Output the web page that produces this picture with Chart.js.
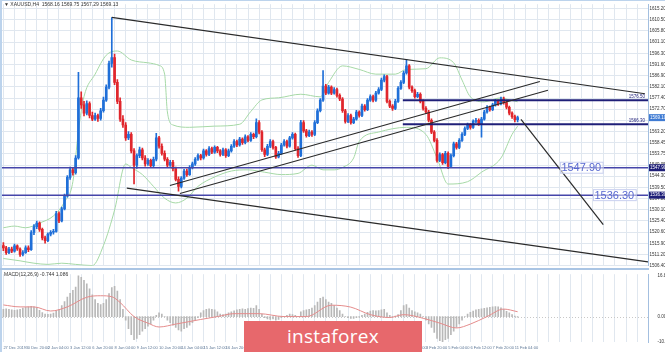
<!DOCTYPE html>
<html>
<head>
<meta charset="utf-8">
<script src="https://cdn.jsdelivr.net/npm/chart.js@4.4.1/dist/chart.umd.min.js"></script>
<style>
  body { margin: 0; background: #fff; width: 665px; height: 352px; overflow: hidden; position: relative; font-family: "Liberation Sans", Arial, sans-serif; }
  #mainBox { position: absolute; left: 0; top: 0; width: 665px; height: 270px; }
  #macdBox { position: absolute; left: 0; top: 270px; width: 665px; height: 82px; }
  .frameL { position: absolute; left: 0; top: 0; width: 2px; height: 352px; background: #bcd3ec; }
  .frameT { position: absolute; left: 0; top: 0; width: 665px; height: 1px; background: #bcd3ec; }
  .sep { position: absolute; left: 0; top: 268px; width: 649px; height: 2px; background: #aac5e4; }
  .title { position: absolute; left: 4px; top: 1px; font-size: 5px; color: #333; white-space: pre; }
  .subtitle { position: absolute; left: 4px; top: 271px; font-size: 5px; color: #333; white-space: pre; }
  .logo { position: absolute; left: 244px; top: 321px; width: 178px; height: 31px; background: #e7686c;
          color: #fff; font-family: "Open Sans", sans-serif; font-size: 19px; line-height: 30px; text-align: center; letter-spacing: 0.3px; }
</style>
</head>
<body>
<div id="mainBox"><canvas id="mainChart" width="665" height="270"></canvas></div>
<div id="macdBox"><canvas id="macdChart" width="665" height="82"></canvas></div>
<div class="frameL"></div>
<div class="frameT"></div>
<div class="sep"></div>
<div class="title">▼ XAUUSD,H4  1568.16 1569.75 1567.29 1569.13</div>
<div class="subtitle">MACD(12,26,9) -0.744 1.086</div>
<div class="logo">instaforex</div>
<script>
// H4 candles, bar 0 = 27 Dec 2019 12:00
let opens = [1515.0,1514.0,1512.0,1513.5,1512.6,1514.8,1513.5,1511.2,1512.0,1514.0,
  1513.2,1520.5,1523.0,1524.5,1521.8,1518.2,1517.0,1519.8,1520.6,1521.0,
  1528.5,1525.4,1530.5,1536.0,1543.8,1547.0,1545.8,1552.0,1577.5,1574.5,
  1571.0,1575.0,1570.0,1568.5,1570.0,1568.8,1572.0,1576.5,1582.0,1592.0,
  1594.5,1584.0,1576.0,1568.5,1566.0,1560.5,1562.0,1555.0,1549.0,1553.0,
  1555.5,1552.0,1549.5,1551.0,1548.8,1551.5,1560.5,1557.0,1554.0,1551.5,
  1549.0,1550.2,1547.5,1543.0,1540.0,1543.5,1546.5,1545.0,1548.0,1549.5,
  1551.5,1553.0,1552.0,1555.0,1553.5,1556.0,1554.5,1556.5,1555.0,1553.5,
  1555.5,1553.0,1555.0,1557.0,1559.0,1557.5,1560.0,1558.5,1561.0,1559.5,
  1562.0,1561.0,1567.0,1563.0,1555.5,1553.5,1557.0,1559.0,1556.5,1552.5,
  1554.0,1557.5,1559.0,1557.0,1560.5,1562.0,1556.0,1553.0,1567.0,1563.5,
  1561.5,1563.0,1562.0,1567.0,1572.0,1576.5,1582.5,1579.5,1582.0,1579.5,
  1581.0,1578.5,1577.0,1572.0,1567.5,1570.0,1567.0,1568.5,1571.5,1570.0,
  1574.0,1572.5,1576.5,1578.0,1576.5,1579.5,1581.0,1585.0,1586.5,1576.0,
  1574.0,1573.0,1576.0,1581.5,1584.0,1588.0,1591.0,1582.0,1580.5,1578.0,
  1579.0,1576.0,1573.0,1571.5,1568.0,1563.0,1559.5,1551.0,1553.5,1550.0,
  1554.0,1548.5,1553.0,1558.0,1556.5,1559.5,1562.0,1564.5,1566.0,1565.0,
  1567.5,1568.0,1566.5,1568.5,1571.5,1573.5,1572.5,1574.5,1576.0,1575.0,
  1577.0,1575.5,1573.5,1571.0,1569.5,1568.2];
let highs = [1516.2,1514.6,1514.2,1514.3,1515.6,1515.3,1514.0,1512.8,1514.8,1514.9,
  1521.3,1523.8,1525.3,1525.0,1522.4,1519.0,1520.4,1521.3,1521.8,1529.4,
  1529.2,1531.2,1536.8,1544.6,1548.2,1548.0,1553.0,1588.3,1580.0,1576.0,
  1576.2,1575.8,1571.5,1571.0,1570.6,1573.0,1577.8,1583.0,1593.0,1611.4,
  1596.0,1585.2,1577.5,1570.0,1567.0,1563.2,1562.8,1556.0,1553.8,1556.6,
  1556.2,1553.0,1551.8,1551.6,1552.4,1562.5,1561.2,1558.0,1555.0,1552.2,
  1551.0,1551.0,1548.2,1544.0,1544.2,1547.2,1547.3,1548.8,1550.3,1552.2,
  1553.8,1553.6,1555.8,1555.6,1556.8,1556.6,1557.2,1557.0,1555.6,1556.2,
  1556.0,1555.8,1557.7,1559.8,1559.6,1560.8,1560.6,1561.8,1561.5,1562.8,
  1562.6,1568.6,1567.8,1563.6,1556.2,1557.8,1559.8,1559.6,1557.0,1554.8,
  1558.2,1559.8,1559.6,1561.2,1562.8,1562.6,1556.8,1568.0,1567.8,1564.2,
  1563.8,1563.6,1567.8,1572.8,1577.2,1589.0,1583.2,1582.8,1582.6,1581.8,
  1581.6,1579.2,1577.6,1572.6,1570.8,1570.6,1569.2,1572.2,1572.0,1574.8,
  1574.6,1577.2,1578.8,1578.6,1580.2,1581.8,1585.8,1587.2,1587.0,1576.6,
  1574.6,1576.8,1582.2,1584.8,1588.8,1593.8,1591.6,1582.6,1581.2,1579.8,
  1579.6,1576.6,1573.8,1572.2,1568.6,1563.6,1560.2,1554.2,1554.0,1554.8,
  1554.6,1553.8,1558.8,1558.6,1560.2,1562.8,1565.2,1566.8,1566.6,1568.2,
  1568.8,1568.6,1569.2,1572.2,1574.2,1574.0,1575.2,1576.8,1576.6,1577.8,
  1577.8,1576.0,1574.0,1571.6,1570.2,1569.8];
let lows = [1512.8,1511.2,1511.5,1512.0,1512.2,1512.9,1510.4,1510.6,1511.6,1512.4,
  1512.9,1519.6,1522.1,1521.0,1517.4,1516.0,1516.6,1519.0,1519.8,1520.6,
  1524.6,1525.0,1530.0,1535.4,1543.0,1544.8,1545.2,1551.5,1573.0,1569.8,
  1570.2,1569.0,1567.8,1567.9,1567.5,1568.0,1571.4,1576.0,1581.2,1590.5,
  1583.0,1575.0,1567.5,1565.0,1559.5,1559.8,1554.2,1541.0,1547.6,1552.2,
  1551.2,1548.6,1548.9,1548.0,1548.2,1550.8,1556.2,1553.2,1550.8,1548.3,
  1548.5,1546.6,1542.3,1538.0,1539.4,1543.0,1544.2,1544.6,1547.4,1548.9,
  1551.0,1551.2,1551.5,1552.8,1553.0,1553.8,1554.0,1554.3,1552.8,1553.0,
  1552.3,1552.6,1554.5,1556.5,1556.8,1557.0,1557.8,1558.0,1558.8,1559.0,
  1560.2,1560.5,1562.2,1554.8,1552.6,1553.0,1556.4,1555.8,1551.8,1552.0,
  1553.5,1557.0,1556.3,1556.6,1560.0,1555.3,1552.3,1552.6,1562.8,1560.8,
  1561.0,1561.2,1561.5,1566.5,1571.5,1576.0,1578.8,1579.0,1578.8,1579.0,
  1577.8,1576.3,1571.3,1566.8,1567.0,1566.3,1566.5,1568.0,1569.3,1569.5,
  1571.8,1572.0,1576.0,1575.8,1576.0,1579.0,1580.5,1584.2,1575.3,1573.3,
  1572.2,1572.5,1575.5,1581.0,1583.5,1587.5,1581.3,1579.8,1577.3,1577.5,
  1575.3,1572.3,1570.8,1567.3,1562.3,1558.8,1550.3,1550.5,1549.3,1549.5,
  1547.5,1548.0,1552.5,1555.8,1556.0,1559.0,1561.5,1564.0,1564.2,1564.5,
  1567.0,1565.8,1560.8,1568.0,1571.0,1571.8,1572.0,1574.0,1574.3,1574.5,
  1574.8,1572.8,1570.3,1568.8,1567.3,1567.3];
let closes = [1514.0,1512.0,1513.5,1512.6,1514.8,1513.5,1511.2,1512.0,1514.0,1513.2,
  1520.5,1523.0,1524.5,1521.8,1518.2,1517.0,1519.8,1520.6,1521.0,1528.5,
  1525.4,1530.5,1536.0,1543.8,1547.0,1545.8,1552.0,1577.5,1574.5,1571.0,
  1575.0,1570.0,1568.5,1570.0,1568.8,1572.0,1576.5,1582.0,1592.0,1594.5,
  1584.0,1576.0,1568.5,1566.0,1560.5,1562.0,1555.0,1549.0,1553.0,1555.5,
  1552.0,1549.5,1551.0,1548.8,1551.5,1560.5,1557.0,1554.0,1551.5,1549.0,
  1550.2,1547.5,1543.0,1540.0,1543.5,1546.5,1545.0,1548.0,1549.5,1551.5,
  1553.0,1552.0,1555.0,1553.5,1556.0,1554.5,1556.5,1555.0,1553.5,1555.5,
  1553.0,1555.0,1557.0,1559.0,1557.5,1560.0,1558.5,1561.0,1559.5,1562.0,
  1561.0,1567.0,1563.0,1555.5,1553.5,1557.0,1559.0,1556.5,1552.5,1554.0,
  1557.5,1559.0,1557.0,1560.5,1562.0,1556.0,1553.0,1567.0,1563.5,1561.5,
  1563.0,1562.0,1567.0,1572.0,1576.5,1582.5,1579.5,1582.0,1579.5,1581.0,
  1578.5,1577.0,1572.0,1567.5,1570.0,1567.0,1568.5,1571.5,1570.0,1574.0,
  1572.5,1576.5,1578.0,1576.5,1579.5,1581.0,1585.0,1586.5,1576.0,1574.0,
  1573.0,1576.0,1581.5,1584.0,1588.0,1591.0,1582.0,1580.5,1578.0,1579.0,
  1576.0,1573.0,1571.5,1568.0,1563.0,1559.5,1551.0,1553.5,1550.0,1554.0,
  1548.5,1553.0,1558.0,1556.5,1559.5,1562.0,1564.5,1566.0,1565.0,1567.5,
  1568.0,1566.5,1568.5,1571.5,1573.5,1572.5,1574.5,1576.0,1575.0,1577.0,
  1575.5,1573.5,1571.0,1569.5,1568.2,1569.1];

// Bollinger bands, read at key bars
let upperBandBars = [0,4,8,13,18,22,25,27,29,33,37,41,46,52,56,58,59,61,67,76,85,89,93,99,107,114,117,122,128,134,141,145,152,157,162,165,168,173,179,182,185];
let upperBand = [1522.5,1523.2,1522.5,1524.5,1527.5,1533.5,1542.0,1563.5,1578.0,1587.5,1595.5,1597.3,1593.5,1592.3,1591.2,1587.5,1571.5,1566.0,1565.0,1565.5,1566.3,1571.7,1576.6,1577.5,1579.0,1577.9,1584.0,1591.0,1589.5,1587.5,1587.5,1589.5,1589.8,1594.4,1592.3,1585.0,1577.9,1575.8,1577.5,1576.6,1575.8];
let lowerBandBars = [0,6,11,16,21,26,32,36,40,44,46,50,54,58,62,66,70,76,82,88,94,100,106,111,115,119,122,126,128,135,145,152,156,160,167,172,179,183,185];
let lowerBand = [1509.5,1508.5,1507.5,1507.0,1507.5,1507.0,1506.5,1515,1530,1549.5,1548,1545,1540,1535,1533,1535,1540,1544,1546.5,1547,1546,1545,1545.5,1549,1547,1547,1548,1552,1559,1563,1565,1562,1552,1541,1542,1546,1552,1562,1565.5];

// trend lines: start bar/price, end bar/price
let trendStartBar = [39, 59.9, 63.5, 44.4, 186.2];
let trendStartPrice = [1611.5, 1540.4, 1537.0, 1539.3, 1568.4];
let trendEndBar = [230.8, 193.0, 195.9, 231.9, 215.8];
let trendEndPrice = [1579.2, 1584.4, 1580.7, 1508.1, 1523.8];

// horizontal levels
let levelPrices = [1576.5, 1566.3, 1547.9, 1536.3];
let levelStartBar = [143.7, 143.7, -0.5, -0.5];
let bigTagPrices = [1547.9, 1536.3];
let bigTagBars = [200.2, 212.1];

// MACD(12,26,9)
let macdHist = [3.0,3.2,3.0,2.8,2.6,2.8,3.0,3.5,3.8,4.0,
  4.2,4.0,3.6,2.6,1.6,1.0,0.9,1.0,1.4,2.4,
  3.0,4.5,6.2,8.0,9.6,10.8,12.2,16.8,16.2,15.0,
  13.5,11.5,9.0,7.0,5.5,5.0,5.5,7.0,9.5,12.0,
  12.5,10.5,7.0,3.0,-1.5,-5.0,-7.5,-9.5,-9.0,-7.5,
  -6.0,-5.0,-4.0,-3.0,-1.5,0.5,1.5,1.0,0.0,-1.5,
  -2.5,-3.5,-4.5,-5.5,-6.0,-5.0,-4.5,-3.5,-2.5,-1.5,
  -0.5,1.5,2.5,3.0,3.2,3.0,2.8,2.0,1.0,0.8,
  1.0,1.5,2.0,2.4,2.8,3.0,3.2,3.0,3.3,3.5,
  3.4,4.5,3.0,1.0,-0.5,-1.0,-1.2,-1.0,-1.5,-1.2,
  -0.5,0.0,0.5,1.0,0.8,0.5,0.0,2.0,2.5,2.8,
  3.0,3.5,4.5,6.0,7.5,8.0,7.0,6.0,5.5,4.5,
  3.5,2.5,1.0,0.0,-0.5,-0.8,-0.8,-0.5,-0.2,0.5,
  1.0,1.8,2.3,2.5,2.4,2.5,2.8,3.0,1.5,0.5,
  0.0,0.2,0.8,2.5,4.5,5.0,3.5,2.5,2.0,1.5,
  1.0,0.0,-1.5,-3.0,-4.5,-6.5,-9.0,-10.0,-10.5,-9.5,
  -9.0,-7.5,-6.0,-4.5,-3.0,-1.5,0.0,1.0,1.8,2.3,
  2.8,3.0,3.2,3.4,3.6,3.8,4.0,4.1,4.0,3.6,
  3.0,2.2,1.5,0.8,0.2,-0.2];
let signalBars = [0,6,11,17,23,30,35,39,42,47,52,56,62,71,77,83,92,101,109,118,125,132,139,144,151,157,163,168,174,180,185];
let signalLine = [4.8,4.0,4.0,2.3,4.0,8.0,8.6,8.2,5.8,0,-2.7,-4.3,-3.1,-1.2,0,1.2,1.2,0,0,4.7,3.9,0.8,-0.4,0.8,-0.7,-2.7,-4.7,-3.1,0,3.1,2.0];

// axis ticks
let priceTicks = [1615.20,1610.50,1605.80,1601.10,1596.30,1591.60,1586.90,1582.10,1577.40,1572.70,1568.00,1563.20,1558.45,1553.75,1549.05,1544.30,1539.50,1534.80,1530.10,1525.40,1520.60,1515.90,1511.20,1506.40];
let macdTicks = [16.886, 0, -10.4];
let macdTickText = ['16.886', '0.00', '-10.40'];
let dateLabels = ['27 Dec 2019','30 Dec 20:00','2 Jan 04:00','3 Jan 12:00','6 Jan 20:00','8 Jan 04:00','9 Jan 12:00','10 Jan 20:00','14 Jan 04:00','15 Jan 12:00','16 Jan 20:00','20 Jan 04:00','21 Jan 12:00','22 Jan 20:00','24 Jan 04:00','27 Jan 12:00','28 Jan 20:00','30 Jan 04:00','31 Jan 12:00','3 Feb 20:00','5 Feb 04:00','6 Feb 12:00','7 Feb 20:00','11 Feb 04:00'];

let xMin = -0.5, xMax = 231.9;
let upColor = '#1f6fd8', downColor = '#e0262c';
let candleColors = closes.map((c, i) => c >= opens[i] ? upColor : downColor);
let barIdx = closes.map((c, i) => i);
let gridBars = [];
for (let b = 0; b <= xMax; b += 4) gridBars.push(b);

function pts(xs, ys) { return xs.map((x, k) => ({x: x, y: ys[k]})); }

let xScale = (showLabels) => ({
  type: 'linear', min: xMin, max: xMax, offset: false,
  grid: { color: '#e0e7ef', lineWidth: 1, offset: false, drawTicks: false },
  border: { display: false },
  afterBuildTicks: s => { s.ticks = gridBars.map(v => ({value: v})); },
  afterFit: s => { s.height = showLabels ? 10 : 2; },
  ticks: showLabels ? {
    autoSkip: false, maxRotation: 0, align: 'start', padding: 3,
    font: { size: 4, family: 'Liberation Sans' }, color: '#5d7796',
    callback: v => (v % 8 === 0 && dateLabels[v / 8]) ? dateLabels[v / 8] : ''
  } : { display: false }
});

let datasets = [];
datasets.push({ type: 'line', data: pts(upperBandBars, upperBand), borderColor: '#a6d9a6', borderWidth: 1, pointRadius: 0, cubicInterpolationMode: 'monotone', order: 6 });
datasets.push({ type: 'line', data: pts(lowerBandBars, lowerBand), borderColor: '#a6d9a6', borderWidth: 1, pointRadius: 0, cubicInterpolationMode: 'monotone', order: 6 });
datasets.push({ type: 'bar', data: barIdx.map(i => ({x: i, y: [lows[i], highs[i]]})), backgroundColor: candleColors, barThickness: 1, grouped: false, order: 4 });
datasets.push({ type: 'bar', data: barIdx.map(i => ({x: i, y: [opens[i], closes[i]]})), backgroundColor: candleColors, barThickness: 2, minBarLength: 1, grouped: false, order: 3 });
levelPrices.forEach((p, k) => {
  datasets.push({ type: 'line', data: [{x: levelStartBar[k], y: p}, {x: xMax, y: p}],
    borderColor: k < 2 ? '#1f1f78' : '#4646aa', borderWidth: k < 2 ? 2 : 1.5, pointRadius: 0, order: 2 });
});
trendStartBar.forEach((b, k) => {
  datasets.push({ type: 'line', data: [{x: b, y: trendStartPrice[k]}, {x: trendEndBar[k], y: trendEndPrice[k]}],
    borderColor: '#2a2a2a', borderWidth: 1.2, pointRadius: 0, order: 1 });
});

let tagPlugin = {
  id: 'tags',
  afterDraw(chart) {
    let {ctx, scales: {x, y}} = chart;
    ctx.save();
    ctx.textBaseline = 'middle';
    // small labels above the short navy lines
    ctx.font = '4.5px "Liberation Sans"';
    ctx.fillStyle = '#1f1f78';
    ctx.textAlign = 'right';
    [0, 1].forEach(k => {
      ctx.fillText(levelPrices[k].toFixed(2), x.right - 3, y.getPixelForValue(levelPrices[k]) - 3);
    });
    // boxed level labels
    ctx.font = '11px "Liberation Sans"';
    ctx.textAlign = 'left';
    bigTagPrices.forEach((p, k) => {
      let t = p.toFixed(2);
      let px = x.getPixelForValue(bigTagBars[k]);
      let py = y.getPixelForValue(p);
      let w = ctx.measureText(t).width + 3;
      ctx.fillStyle = 'rgba(255,255,255,0.55)';
      ctx.fillRect(px, py - 5.5, w, 11);
      ctx.strokeStyle = '#c9d0ef';
      ctx.lineWidth = 1;
      ctx.strokeRect(px + 0.5, py - 5.5, w, 11);
      ctx.fillStyle = '#5868d0';
      ctx.fillText(t, px + 1.5, py + 0.5);
    });
    // price boxes on the axis
    let boxes = [[closes[closes.length - 1], '#3f7bd3'], [levelPrices[2], '#1f1f78'], [levelPrices[3], '#1f1f78']];
    ctx.font = '4.5px "Liberation Sans"';
    boxes.forEach(([p, c]) => {
      let py = y.getPixelForValue(p);
      ctx.fillStyle = c;
      ctx.fillRect(x.right + 1, py - 3.5, 16, 7);
      ctx.fillStyle = '#fff';
      ctx.fillText(p.toFixed(2), x.right + 2, py);
    });
    ctx.restore();
  }
};

let zeroLine = {
  id: 'zeroLine',
  beforeDatasetsDraw(chart) {
    let {ctx, scales: {x, y}} = chart;
    let py = Math.round(y.getPixelForValue(0)) + 0.5;
    ctx.save();
    ctx.strokeStyle = '#c8c8c8';
    ctx.setLineDash([1, 2]);
    ctx.beginPath();
    ctx.moveTo(x.left, py);
    ctx.lineTo(x.right, py);
    ctx.stroke();
    ctx.restore();
  }
};

new Chart(document.getElementById('mainChart'), {
  type: 'bar',
  data: { datasets: datasets },
  plugins: [tagPlugin],
  options: {
    responsive: false, animation: false, events: [], devicePixelRatio: 1,
    layout: { padding: { left: 2, right: 0, top: 0, bottom: 0 } },
    plugins: { legend: { display: false }, tooltip: { enabled: false } },
    scales: {
      x: xScale(false),
      y: {
        position: 'right', min: 1506.4, max: 1617.1,
        grid: { color: '#e0e7ef', drawTicks: false },
        border: { display: true, color: '#a3bfe0' },
        afterBuildTicks: s => { s.ticks = priceTicks.map(v => ({value: v})); },
        afterFit: s => { s.width = 17; },
        ticks: { padding: 1.5, font: { size: 4.5, family: 'Liberation Sans' }, color: '#333', callback: v => v.toFixed(2) }
      }
    }
  }
});

new Chart(document.getElementById('macdChart'), {
  type: 'bar',
  data: {
    datasets: [
      { type: 'line', data: pts(signalBars, signalLine), borderColor: '#e58c8c', borderWidth: 1, pointRadius: 0, cubicInterpolationMode: 'monotone', order: 1 },
      { type: 'bar', data: barIdx.map(i => ({x: i, y: macdHist[i]})), backgroundColor: '#b8b8b8', barThickness: 1, order: 2 }
    ]
  },
  plugins: [zeroLine],
  options: {
    responsive: false, animation: false, events: [], devicePixelRatio: 1,
    layout: { padding: { left: 2, right: 0, top: 0, bottom: 0 } },
    plugins: { legend: { display: false }, tooltip: { enabled: false } },
    scales: {
      x: xScale(true),
      y: {
        position: 'right', min: -10.5, max: 17.5,
        grid: { display: false },
        border: { display: true, color: '#a3bfe0' },
        afterBuildTicks: s => { s.ticks = macdTicks.map(v => ({value: v})); },
        afterFit: s => { s.width = 17; },
        ticks: { padding: 1.5, font: { size: 4.5, family: 'Liberation Sans' }, color: '#333',
          callback: (v, k) => macdTickText[k] }
      }
    }
  }
});
</script>
</body>
</html>
